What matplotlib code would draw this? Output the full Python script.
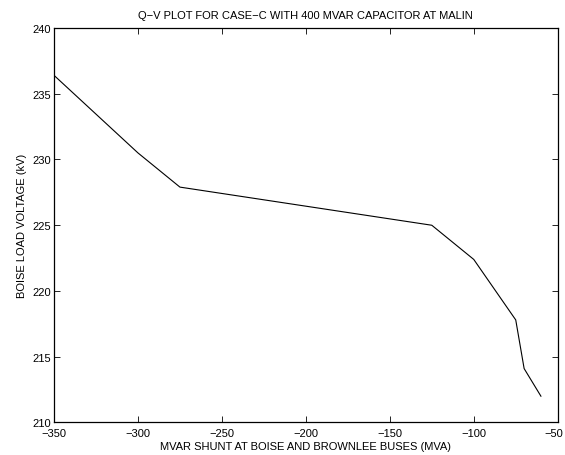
import matplotlib
matplotlib.use("Agg")
import matplotlib.pyplot as plt
from matplotlib.transforms import ScaledTranslation

# Q-V curve
mvar_shunt = [-350, -300, -275, -125, -100, -75, -70, -60]
voltage_kv = [236.4, 230.5, 227.9, 225.0, 222.4, 217.8, 214.1, 212.0]

x_ticks = [-350, -300, -250, -200, -150, -100, -50]
y_ticks = [210, 215, 220, 225, 230, 235, 240]

plt.rcParams['font.family'] = ['Liberation Sans', 'DejaVu Sans']
plt.rcParams['font.size'] = 8

fig = plt.figure(figsize=(5.65, 4.56), dpi=100)
ax = fig.add_axes([0.0956, 0.0713, 0.8915, 0.8651])

ax.plot(mvar_shunt, voltage_kv, color='black', linewidth=0.8)

ax.set_xlim(-350, -50)
ax.set_ylim(210, 240)
ax.set_xticks(x_ticks)
ax.set_yticks(y_ticks)
ax.tick_params(direction='in', length=4, width=0.6, top=True, right=True,
               labelsize=8)
ax.tick_params(axis='x', pad=4)
ax.tick_params(axis='y', pad=2)
for s in ax.spines.values():
    s.set_linewidth(0.9)

# the last x tick label sits at the right edge of the figure; nudge it inside
last = ax.get_xticklabels()[-1]
last.set_transform(last.get_transform() + ScaledTranslation(-4 / 100, 0, fig.dpi_scale_trans))

ax.set_title('Q\u2212V PLOT FOR CASE\u2212C WITH 400 MVAR CAPACITOR AT MALIN',
             fontsize=8, pad=7)
ax.set_xlabel('MVAR SHUNT AT BOISE AND BROWNLEE BUSES (MVA)', fontsize=8, labelpad=2)
ax.set_ylabel('BOISE LOAD VOLTAGE (kV)', fontsize=8, labelpad=4)

fig.savefig('out.png', dpi=100)
